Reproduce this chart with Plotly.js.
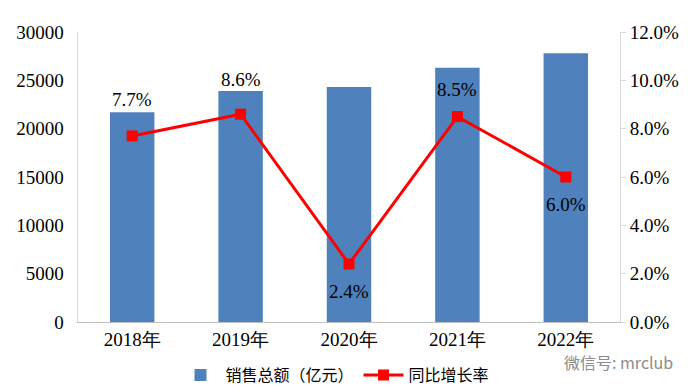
<!DOCTYPE html>
<html>
<head>
<meta charset="utf-8">
<script src="https://cdn.plot.ly/plotly-3.0.1.min.js"></script>
<style>html,body{margin:0;padding:0;background:#fff;}#chart{width:700px;height:392px;}</style>
</head>
<body>
<div id="chart"></div>
<script>
const years = ["2018年", "2019年", "2020年", "2021年", "2022年"];
const sales = [21700, 23900, 24300, 26300, 27800];
const growth = [0.077, 0.086, 0.024, 0.085, 0.060];
const growthLabels = ["7.7%", "8.6%", "2.4%", "8.5%", "6.0%"];
const salesName = "销售总额（亿元）";
const growthName = "同比增长率";

const labelShift = [36, 35, -27, 27, -27];
const serif = "Liberation Serif";

const traces = [
  {
    type: "bar", x: years, y: sales, name: salesName,
    marker: {color: "#4F81BD"}, width: 0.41
  },
  {
    type: "scatter", mode: "lines+markers", x: years, y: growth, yaxis: "y2",
    name: growthName,
    line: {color: "#FF0000", width: 3},
    marker: {symbol: "square", size: 11, color: "#FF0000"}
  }
];

const annotations = years.map((c, i) => ({
  x: c, y: growth[i], xref: "x", yref: "y2", text: growthLabels[i],
  showarrow: false, yshift: labelShift[i],
  font: {family: serif, size: 19, color: "#000"}
}));
annotations.push({
  xref: "paper", yref: "paper", x: (562 - 78) / 542, y: -(362 - 322) / 290,
  xanchor: "left", yanchor: "middle",
  text: "微信号: mrclub", showarrow: false,
  font: {family: "Noto Sans CJK SC", size: 16, color: "#8c8c8c"}
});

const layout = {
  width: 700, height: 392,
  margin: {l: 78, r: 80, t: 32, b: 70, autoexpand: false},
  paper_bgcolor: "#fff", plot_bgcolor: "#fff",
  font: {family: serif, size: 18, color: "#000"},
  showlegend: true,
  legend: {
    orientation: "h", x: (335 - 78) / 542, xanchor: "center",
    yref: "container", y: 1 - 375 / 392, yanchor: "middle",
    font: {family: "Noto Sans CJK SC", size: 16, color: "#000"},
    itemwidth: 40, traceorder: "normal"
  },
  xaxis: {
    type: "category", showgrid: false, showline: true, linecolor: "#bfbfbf", linewidth: 1,
    ticks: "", tickfont: {family: serif, size: 19}, zeroline: false, automargin: false
  },
  yaxis: {
    range: [0, 30000], dtick: 5000, tickformat: "d", showgrid: false, showline: true,
    linecolor: "#d9d9d9", linewidth: 1, ticks: "", zeroline: false,
    tickfont: {family: serif, size: 19}, ticksuffix: "  ", automargin: false
  },
  yaxis2: {
    overlaying: "y", side: "right", range: [0, 0.12], dtick: 0.02, tickformat: ".1%",
    showgrid: false, showline: true, linecolor: "#d9d9d9", linewidth: 1,
    ticks: "outside", ticklen: 5, tickcolor: "#d9d9d9", zeroline: false,
    tickfont: {family: serif, size: 19}, automargin: false
  },
  annotations: annotations
};

Plotly.newPlot("chart", traces, layout, {displayModeBar: false, staticPlot: true});
</script>
</body>
</html>
